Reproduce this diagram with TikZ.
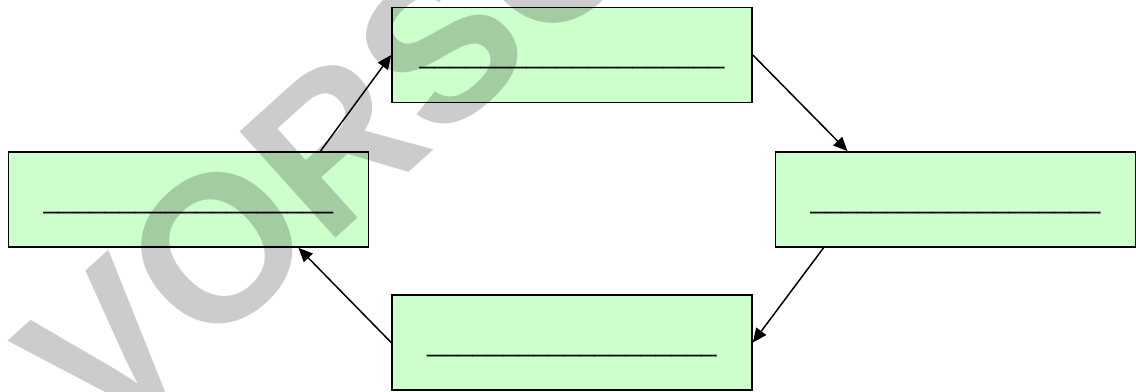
\documentclass[tikz,border=0pt]{standalone}
\usepackage{fontspec}
\setmainfont{Liberation Sans}
\usetikzlibrary{arrows.meta, calc}
\definecolor{boxgreen}{HTML}{CCFFCC}
\definecolor{markgray}{gray}{0.8}
\newcommand{\blanks}[1]{\foreach \i in {1,...,#1}{\_}}
\tikzset{%
  >={Triangle[width=7pt, length=8pt]}, % filled heads
  % green box holding one blank line
  blankbox/.style={rectangle, draw, fill=boxgreen, line width=1pt,
    minimum width=7.2cm, minimum height=1.9cm, inner sep=0pt,
    text height=0.34cm, text depth=0cm, font=\fontsize{15.6}{15.6}\selectfont},
  % step of the cycle
  cycleinfl/.style={->, line width=0.85pt},
  % preview stamp across the page
  stamp/.style={text=markgray, rotate=42, inner sep=0pt,
    font=\fontsize{118.4}{118.4}\selectfont\bfseries}
}

\begin{document}
\begin{tikzpicture}[x=0.02cm, y=-0.02cm]
  \useasboundingbox (0,0) rectangle (1136,392);
  \clip (0,0) rectangle (1136,392);

  \node[blankbox] (boxtop) at (572,55) {\blanks{20}};
  \node[blankbox] (boxleft) at (188.5,199.5) {\blanks{19}};
  \node[blankbox] (boxright) at (955.5,199.5) {\blanks{19}};
  \node[blankbox] (boxbottom) at (572,342.5) {\blanks{19}};

  \draw[cycleinfl] ($(boxleft.north)+(132,0)$) -- (boxtop.west);
  \draw[cycleinfl] (boxtop.east) -- ($(boxright.north)+(-108,0)$);
  \draw[cycleinfl] ($(boxright.south)+(-132,0)$) -- (boxbottom.east);
  \draw[cycleinfl] (boxbottom.west) -- ($(boxleft.south)+(110,0)$);

  % watermark
  \begin{scope}[blend mode=multiply]
    \node[stamp] (preview) at (496.5,-3) {VORSCHAU};
  \end{scope}
\end{tikzpicture}
\end{document}
